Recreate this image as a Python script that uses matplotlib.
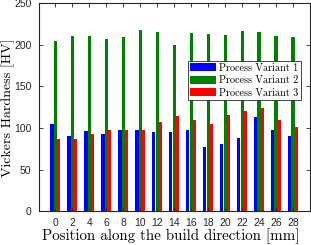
import matplotlib
matplotlib.use("Agg")
import matplotlib.pyplot as plt
import numpy as np

positions = [0, 2, 4, 6, 8, 10, 12, 14, 16, 18, 20, 22, 24, 26, 28]
variant1 = [105, 90, 96, 93, 98, 97, 95, 95, 98, 77, 81, 88, 113, 97, 90]
variant2 = [205, 211, 211, 207, 210, 218, 216, 200, 214, 213, 212, 217, 216, 211, 210]
variant3 = [87, 87, 93, 98, 98, 97, 107, 115, 110, 105, 116, 121, 124, 110, 101]
series_names = ["Process Variant 1", "Process Variant 2", "Process Variant 3"]
colors = ["#0000ff", "#008000", "#ff0000"]
yticks = [0, 50, 100, 150, 200, 250]

plt.rcParams['mathtext.fontset'] = 'cm'

fig = plt.figure(figsize=(3.11, 2.45), dpi=100)
ax = fig.add_axes([38.5/311, 1 - 211/245, (310 - 38.5)/311, (211 - 3.5)/245])

x = np.array(positions, dtype=float)
w = 0.4
for i, (vals, name, c) in enumerate(zip([variant1, variant2, variant3], series_names, colors)):
    ax.bar(x + (i - 1) * w, vals, width=w * 0.95, color=c, label=name, edgecolor='none')

ax.set_xlim(-2, 30)
ax.set_ylim(0, 250)
ax.set_xticks(positions)
ax.set_xticklabels([str(p) for p in positions], fontsize=7.5, family='Liberation Sans')
ax.set_yticks(yticks)
ax.set_yticklabels([str(t) for t in yticks], fontsize=7.5, family='Liberation Sans')
ax.tick_params(direction='in', top=True, right=True, length=3, width=0.6, colors='#262626', pad=5)
for s in ax.spines.values():
    s.set_linewidth(0.8)
    s.set_color('#262626')

serif = ['cmr10', 'DejaVu Serif']
ax.set_xlabel("Position along the build direction [mm]", fontsize=10.8, family=serif)
ax.xaxis.set_label_coords((171 - 38.5) / 271.5, (211 - 236) / 207.5)
ax.set_ylabel("Vickers Hardness [HV]", fontsize=10, family=serif)
ax.yaxis.set_label_coords((8 - 38.5) / 271.5, (211 - 108) / 207.5)
ax.xaxis.label.set_va('center')
ax.yaxis.label.set_va('center')

leg = ax.legend(loc='upper left', bbox_to_anchor=((188 - 38.5) / 271.5, (211 - 61) / 207.5),
                prop={'family': serif, 'size': 7.3}, fancybox=False, framealpha=1,
                edgecolor='#262626', handlelength=2.6, handleheight=0.85,
                borderpad=0.2, labelspacing=0.3, handletextpad=0.3, borderaxespad=0)
leg.get_frame().set_linewidth(0.6)

fig.savefig("out.png", dpi=100)
